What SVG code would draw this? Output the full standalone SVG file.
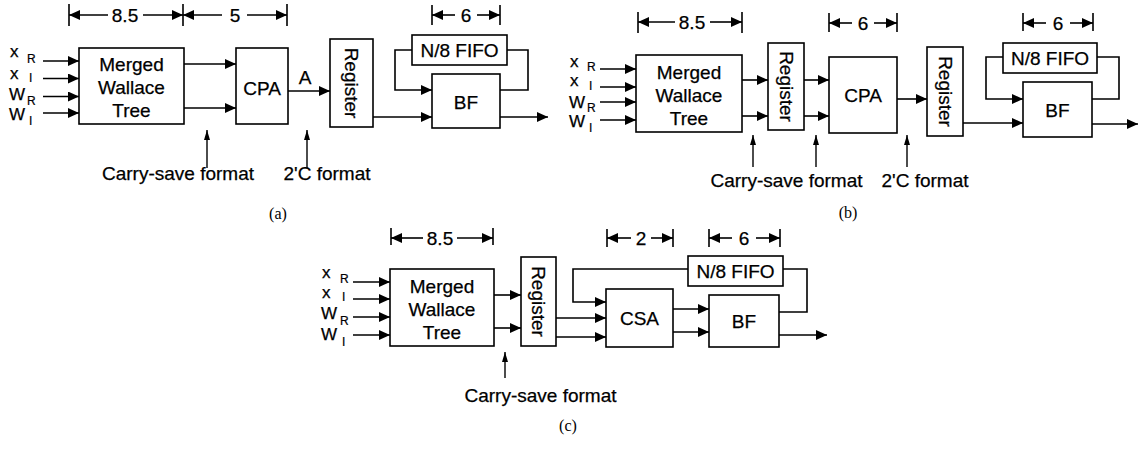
<svg xmlns="http://www.w3.org/2000/svg" width="1140" height="454" viewBox="0 0 1140 454">
<style>
.box{fill:#fff;stroke:#000;stroke-width:1.6}
.ln{fill:none;stroke:#000;stroke-width:1.6}
.ar{fill:none;stroke:#000;stroke-width:1.6;marker-end:url(#ah)}
.up{fill:none;stroke:#000;stroke-width:1.4;marker-end:url(#au)}
.t{font-family:"Liberation Sans",Arial,sans-serif;font-size:19px;text-anchor:middle;fill:#000;stroke:#000;stroke-width:0.25}
.d{font-family:"Liberation Sans",Arial,sans-serif;font-size:19px;text-anchor:middle;fill:#000;stroke:#000;stroke-width:0.25}
.in{font-family:"Liberation Sans",Arial,sans-serif;font-size:17px;fill:#000;stroke:#000;stroke-width:0.25}
.sb{font-family:"Liberation Sans",Arial,sans-serif;font-size:12px;fill:#000;stroke:#000;stroke-width:0.2}
.cap{font-family:"Liberation Serif","Times New Roman",serif;font-size:16px;text-anchor:middle;fill:#000}
</style>
<defs>
<marker id="ah" markerUnits="userSpaceOnUse" markerWidth="11" markerHeight="10" refX="11" refY="5" orient="auto"><path d="M0,0 L11,5 L0,10 Z" fill="#000"/></marker>
<marker id="au" markerUnits="userSpaceOnUse" markerWidth="10" markerHeight="6" refX="10" refY="3" orient="auto"><path d="M0,0 L10,3 L0,6 Z" fill="#000"/></marker>
</defs>

<!-- ===== Panel (a) ===== -->
<g id="a-dims">
<path class="ln" d="M69,4V26 M183,4V26 M287,4V26 M432,5V25 M500,5V25"/>
<path class="ar" d="M108,15H69"/><path class="ar" d="M143,15H183"/>
<text class="d" x="125" y="21.5">8.5</text>
<path class="ar" d="M222,15H183"/><path class="ar" d="M247,15H287"/>
<text class="d" x="235" y="21.5">5</text>
<path class="ar" d="M455,15H432"/><path class="ar" d="M477,15H500"/>
<text class="d" x="466" y="21.5">6</text>
</g>
<g id="a-inputs">
<text class="in" x="10" y="57">x</text><text class="sb" x="27" y="63">R</text>
<text class="in" x="10" y="79">x</text><text class="sb" x="29" y="82">I</text>
<text class="in" x="9" y="100">W</text><text class="sb" x="27" y="105">R</text>
<text class="in" x="9" y="120">W</text><text class="sb" x="29" y="125">I</text>
</g>
<g id="a-mwt"><rect class="box" x="79" y="48" width="105" height="76"/>
<text class="t" x="131.5" y="71">Merged</text><text class="t" x="131.5" y="94">Wallace</text><text class="t" x="131.5" y="117">Tree</text></g>
<g id="a-cpa"><rect class="box" x="236" y="48" width="52" height="76"/><text class="t" x="262" y="95">CPA</text></g>
<g id="a-reg"><rect class="box" x="330" y="39" width="43" height="88"/><text class="t" transform="translate(351.5,83) rotate(90)" x="0" y="7">Register</text></g>
<g id="a-fifo"><rect class="box" x="412" y="35" width="95" height="30"/><text class="t" x="459.5" y="57">N/8 FIFO</text></g>
<g id="a-bf"><rect class="box" x="432" y="74" width="68" height="54"/><text class="t" x="466" y="109">BF</text></g>
<g id="a-labels">
<text class="t" x="305" y="84">A</text>
<text class="t" x="178" y="180">Carry-save format</text>
<text class="t" x="327" y="180">2'C format</text>
<text class="cap" x="278" y="219">(a)</text>
</g>
<g id="a-connectors">
<path class="ar" d="M43,61H79"/><path class="ar" d="M43,78.5H79"/><path class="ar" d="M43,96.5H79"/><path class="ar" d="M43,113H79"/>
<path class="ar" d="M184,64H236"/><path class="ar" d="M184,108H236"/>
<path class="ar" d="M288,91H330"/>
<path class="ar" d="M373,117H432"/>
<path class="ar" d="M412,50H395V90H432"/>
<path class="ln" d="M500,90H528V50H507"/>
<path class="ar" d="M500,117H548"/>
<path class="up" d="M207,168V130"/><path class="up" d="M307,168V130"/>
</g>

<!-- ===== Panel (b) ===== -->
<g id="b-dims">
<path class="ln" d="M638,12V33 M742,12V33 M829,13V32 M897,13V32 M1023,13V31 M1093,13V31"/>
<path class="ar" d="M675,22H638"/><path class="ar" d="M710,22H742"/>
<text class="d" x="692" y="28.5">8.5</text>
<path class="ar" d="M852,23H829"/><path class="ar" d="M874,23H897"/>
<text class="d" x="863" y="29.5">6</text>
<path class="ar" d="M1046,23H1023"/><path class="ar" d="M1070,23H1093"/>
<text class="d" x="1058" y="29.5">6</text>
</g>
<g id="b-inputs">
<text class="in" x="570" y="67">x</text><text class="sb" x="587" y="71">R</text>
<text class="in" x="570" y="86">x</text><text class="sb" x="589" y="90">I</text>
<text class="in" x="569" y="108">W</text><text class="sb" x="587" y="112">R</text>
<text class="in" x="569" y="127">W</text><text class="sb" x="589" y="132">I</text>
</g>
<g id="b-mwt"><rect class="box" x="636" y="55" width="106" height="77"/>
<text class="t" x="689" y="78.5">Merged</text><text class="t" x="689" y="101.5">Wallace</text><text class="t" x="689" y="124.5">Tree</text></g>
<g id="b-reg1"><rect class="box" x="768" y="43" width="36" height="87"/><text class="t" transform="translate(786.5,86.5) rotate(90)" x="0" y="7">Register</text></g>
<g id="b-cpa"><rect class="box" x="829" y="57" width="68" height="76"/><text class="t" x="863" y="102">CPA</text></g>
<g id="b-reg2"><rect class="box" x="927" y="47" width="36" height="89"/><text class="t" transform="translate(945.5,91.5) rotate(90)" x="0" y="7">Register</text></g>
<g id="b-fifo"><rect class="box" x="1003" y="43" width="94" height="30"/><text class="t" x="1050" y="65">N/8 FIFO</text></g>
<g id="b-bf"><rect class="box" x="1023" y="82" width="69" height="55"/><text class="t" x="1057.5" y="117">BF</text></g>
<g id="b-labels">
<text class="t" x="786.5" y="187">Carry-save format</text>
<text class="t" x="925" y="187">2'C format</text>
<text class="cap" x="848" y="218">(b)</text>
</g>
<g id="b-connectors">
<path class="ar" d="M600,69H636"/><path class="ar" d="M600,87H636"/><path class="ar" d="M600,102H636"/><path class="ar" d="M600,120H636"/>
<path class="ar" d="M742,80H768"/><path class="ar" d="M742,116H768"/>
<path class="ar" d="M804,80H829"/><path class="ar" d="M804,116H829"/>
<path class="ar" d="M897,99H927"/>
<path class="ar" d="M963,123H1023"/>
<path class="ar" d="M1003,57H986V99H1023"/>
<path class="ln" d="M1092,99H1119V57H1097"/>
<path class="ar" d="M1092,124H1138"/>
<path class="up" d="M753,167V135"/><path class="up" d="M816,167V135"/><path class="up" d="M907,167V135"/>
</g>

<!-- ===== Panel (c) ===== -->
<g id="c-dims">
<path class="ln" d="M391,228V245 M493,228V245 M607,229V247 M673,229V247 M709,229V247 M780,229V247"/>
<path class="ar" d="M423,238H391"/><path class="ar" d="M457,238H493"/>
<text class="d" x="440" y="244.5">8.5</text>
<path class="ar" d="M631,238H607"/><path class="ar" d="M651,238H673"/>
<text class="d" x="641" y="244.5">2</text>
<path class="ar" d="M732,238H709"/><path class="ar" d="M756,238H780"/>
<text class="d" x="744" y="244.5">6</text>
</g>
<g id="c-inputs">
<text class="in" x="322" y="278">x</text><text class="sb" x="340" y="283">R</text>
<text class="in" x="322" y="298">x</text><text class="sb" x="342" y="301">I</text>
<text class="in" x="321" y="319">W</text><text class="sb" x="340" y="325">R</text>
<text class="in" x="321" y="340">W</text><text class="sb" x="342" y="346">I</text>
</g>
<g id="c-mwt"><rect class="box" x="390" y="269" width="104" height="77"/>
<text class="t" x="442" y="292.5">Merged</text><text class="t" x="442" y="315.5">Wallace</text><text class="t" x="442" y="338.5">Tree</text></g>
<g id="c-reg"><rect class="box" x="521" y="257" width="35" height="89"/><text class="t" transform="translate(539,301.5) rotate(90)" x="0" y="7">Register</text></g>
<g id="c-csa"><rect class="box" x="606" y="289" width="67" height="58"/><text class="t" x="639.5" y="325">CSA</text></g>
<g id="c-fifo"><rect class="box" x="688" y="256" width="95" height="30"/><text class="t" x="735.5" y="278">N/8 FIFO</text></g>
<g id="c-bf"><rect class="box" x="709" y="295" width="70" height="52"/><text class="t" x="744" y="328">BF</text></g>
<g id="c-labels">
<text class="t" x="540.5" y="402">Carry-save format</text>
<text class="cap" x="568" y="431">(c)</text>
</g>
<g id="c-connectors">
<path class="ar" d="M353,282H390"/><path class="ar" d="M353,299H390"/><path class="ar" d="M353,317H390"/><path class="ar" d="M353,335H390"/>
<path class="ar" d="M494,295H521"/><path class="ar" d="M494,328H521"/>
<path class="ar" d="M556,318H606"/><path class="ar" d="M556,337H606"/>
<path class="ar" d="M688,269H573V302H606"/>
<path class="ar" d="M673,309H709"/><path class="ar" d="M673,332H709"/>
<path class="ln" d="M779,312H807V269H783"/>
<path class="ar" d="M779,335H827"/>
<path class="up" d="M505,378V352"/>
</g>
</svg>
